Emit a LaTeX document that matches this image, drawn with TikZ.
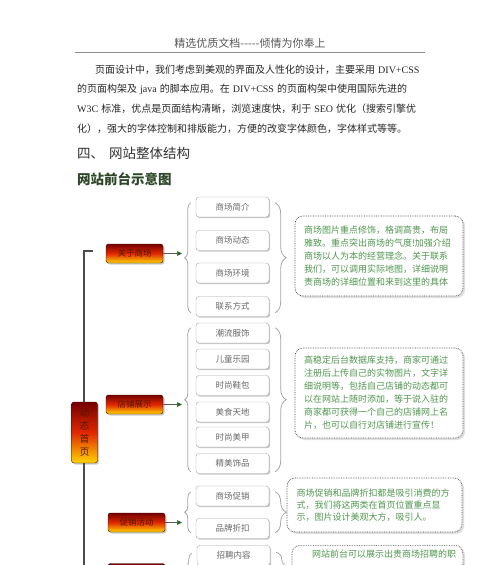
\documentclass[tikz,border=0pt]{standalone}
\usepackage{fontspec}
\setmainfont{Noto Sans CJK SC}
\newfontfamily\latfont{Liberation Serif}
\usetikzlibrary{shadows,decorations.pathreplacing,arrows.meta}
\XeTeXlinebreaklocale "zh"
\XeTeXlinebreakskip=0pt plus 1pt

\definecolor{deepred}{RGB}{115,0,0}
\definecolor{flame}{RGB}{225,40,0}
\definecolor{gold}{RGB}{255,214,0}
\definecolor{navtext}{RGB}{80,25,0}
\definecolor{itemtext}{RGB}{105,105,105}
\definecolor{desctext}{RGB}{80,150,80}
\definecolor{headgreen}{RGB}{45,70,40}
\definecolor{tipgreen}{RGB}{40,100,40}

\newcommand{\parafont}{\fontsize{10}{12}\selectfont}
\newcommand{\lat}[1]{\hspace{3pt}{\latfont #1}\hspace{3pt}}

\tikzset{
  navnode/.style={draw=deepred!60!black, rounded corners=2.5pt,
    top color=deepred, bottom color=gold, middle color=flame,
    text=navtext, font=\fontsize{8.5}{10}\selectfont,
    minimum width=57pt, minimum height=19pt, inner sep=0pt,
    drop shadow={shadow xshift=1.5pt,shadow yshift=-1.5pt,fill=black!40}},
  itembox/.style={draw=black!35, rounded corners=3pt, fill=white,
    text=itemtext, font=\fontsize{8.5}{10}\selectfont,
    minimum width=73pt, minimum height=20pt, inner sep=0pt,
    drop shadow={shadow xshift=1.2pt,shadow yshift=-1.2pt,fill=black!45}},
  descbox/.style={draw=black!75, densely dotted, line width=0.7pt,
    rounded corners=8pt, fill=white, text=desctext,
    font=\fontsize{9}{13}\selectfont, align=left,
    drop shadow={shadow xshift=2pt,shadow yshift=-2pt,fill=black!25}},
  arr/.style={draw=black!65, line width=0.7pt,
    -{Triangle[length=5pt,width=4.5pt,color=tipgreen]}},
  lbrace/.style={draw=black!35, line width=0.8pt, decorate,
    decoration={brace,amplitude=6pt}},
  rbrace/.style={draw=black!35, line width=0.8pt, decorate,
    decoration={brace,amplitude=11pt}},
  trunk/.style={draw=black!70, line width=1.1pt}
}

\begin{document}
\begin{tikzpicture}[x=1pt,y=-1pt]
\useasboundingbox (0,0) rectangle (500,565);
\clip (0,0) rectangle (500,565);

% page header
\node[font=\fontsize{11}{13}\selectfont, text=black!65] (title) at (250,43) {精选优质文档-{}-{}-{}-{}-倾情为你奉上};
\draw[black!45, line width=0.8pt] (75,52) -- (425,52);

% paragraph
\node[anchor=west, inner sep=0pt, font=\parafont, text=black!85] (para1) at (95,70)
  {\makebox[330pt][s]{页面设计中，我们考虑到美观的界面及人性化的设计，主要采用\lat{DIV+CSS}}};
\node[anchor=west, inner sep=0pt, font=\parafont, text=black!85] (para2) at (77,89.5)
  {\makebox[348pt][s]{的页面构架及\lat{java}的脚本应用。在\lat{DIV+CSS}的页面构架中使用国际先进的}};
\node[anchor=west, inner sep=0pt, font=\parafont, text=black!85] (para3) at (77,109)
  {\makebox[348pt][s]{{\latfont W3C}\hspace{3pt}标准，优点是页面结构清晰，浏览速度快，利于\lat{SEO}优化（搜索引擎优}};
\node[anchor=west, inner sep=0pt, font=\parafont, text=black!85] (para4) at (77,128.5)
  {化），强大的字体控制和排版能力，方便的改变字体颜色，字体样式等等。};

% headings
\node[anchor=west, inner sep=0pt, font=\fontsize{13.5}{16}\selectfont, text=black!80] (sect) at (77,153) {四、\hspace{5pt}网站整体结构};
\node[anchor=west, inner sep=0pt, font=\fontsize{13.5}{16}\selectfont\bfseries, text=headgreen] (sub) at (77,179) {网站前台示意图};

% trunk
\node[navnode, minimum width=26pt, minimum height=61pt, align=center,
  font=\fontsize{9.5}{13}\selectfont] (home) at (84.5,432.5) {动\\态\\首\\页};
\coordinate (tick) at (93,251);
\coordinate (bottom) at (0,580);
\coordinate (brx) at (182,0);
\draw[trunk] (home.north -| 84,0) |- (tick);
\draw[trunk] (home.south -| 84,0) -- (84,580);

% group: about the mall
\node[navnode] (about) at (134.5,253.5) {关于商场};
\node[itembox] (mall1) at (232.5,207) {商场简介};
\node[itembox] (mall2) at (232.5,240.5) {商场动态};
\node[itembox] (mall3) at (232.5,273) {商场环境};
\node[itembox] (mall4) at (232.5,306.5) {联系方式};
\draw[arr] (about.east) -- (about.east -| brx);
\draw[lbrace] ([xshift=-5pt,yshift=4pt]mall4.south west) -- ([xshift=-5pt,yshift=-6pt]mall1.north west);
\draw[rbrace] ([xshift=6pt,yshift=-6pt]mall1.north east) -- ([xshift=6pt,yshift=4pt]mall4.south east);
\node[descbox, text width=150pt, inner xsep=9pt, minimum height=80pt] (desc1) at (379,256)
  {商场图片重点修饰，格调高贵，布局\\雅致。重点突出商场的气度!加强介绍\\商场以人为本的经营理念。关于联系\\我们，可以调用实际地图，详细说明\\贵商场的详细位置和来到这里的具体};

% group: shops
\node[navnode] (shop) at (134.5,404.5) {店铺展示};
\node[itembox] (shop1) at (232.5,333) {潮流服饰};
\node[itembox] (shop2) at (232.5,359) {儿童乐园};
\node[itembox] (shop3) at (232.5,385.5) {时尚鞋包};
\node[itembox] (shop4) at (232.5,412) {美食天地};
\node[itembox] (shop5) at (232.5,437) {时尚美甲};
\node[itembox] (shop6) at (232.5,463.5) {精美饰品};
\draw[arr] (shop.east) -- (shop.east -| brx);
\draw[lbrace] ([xshift=-5pt,yshift=2pt]shop6.south west) -- ([xshift=-5pt,yshift=-5pt]shop1.north west);
\draw[rbrace] ([xshift=6pt,yshift=-5pt]shop1.north east) -- ([xshift=6pt,yshift=2pt]shop6.south east);
\node[descbox, text width=150pt, inner xsep=9pt, minimum height=90pt] (desc2) at (379,393)
  {高稳定后台数据库支持，商家可通过\\注册后上传自己的实物图片，文字详\\细说明等，包括自己店铺的动态都可\\以在网站上随时添加，等于说入驻的\\商家都可获得一个自己的店铺网上名\\片，也可以自行对店铺进行宣传！};

% group: promotions
\node[navnode] (promo) at (136.5,522.5) {促销活动};
\node[itembox] (promo1) at (232.5,496) {商场促销};
\node[itembox] (promo2) at (232.5,528.5) {品牌折扣};
\draw[arr] (promo.east) -- (promo.east -| brx);
\draw[lbrace] ([xshift=-5pt,yshift=6pt]promo2.south west) -- ([xshift=-5pt,yshift=-6pt]promo1.north west);
\draw[rbrace] ([xshift=6pt,yshift=-6pt]promo1.north east) -- ([xshift=6pt,yshift=6pt]promo2.south east);
\node[descbox, text width=156pt, inner xsep=9.5pt, minimum height=54pt,
  font=\fontsize{9}{12}\selectfont] (desc3) at (374.5,505)
  {商场促销和品牌折扣都是吸引消费的方\\式，我们将这两类在首页位置重点显\\示，图片设计美观大方，吸引人。};

% group: recruitment (cut by the page edge)
\node[navnode] (recruit) at (136.5,573) {};
\node[itembox] (job1) at (233.5,555.5) {招聘内容};
\draw[lbrace] ([xshift=-5pt]job1.west |- bottom) -- ([xshift=-5pt,yshift=-8pt]job1.north west);
\draw[rbrace] ([xshift=6pt,yshift=-7pt]job1.north east) -- ([xshift=6pt]job1.east |- bottom);
\node[descbox, anchor=north, text width=158pt, inner xsep=6.5pt,
  text height=9pt, text depth=55pt] (desc4) at (377.5,545)
  {\hspace*{1.5em}网站前台可以展示出贵商场招聘的职};
\end{tikzpicture}
\end{document}
